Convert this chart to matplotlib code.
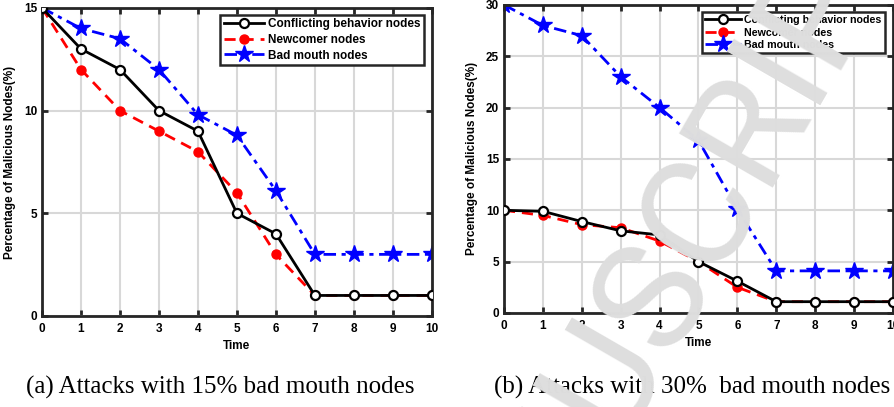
import matplotlib.pyplot as plt

# data
time = list(range(11))

conflict_15 = [15, 13, 12, 10, 9, 5, 4, 1, 1, 1, 1]
newcomer_15 = [15, 12, 10, 9, 8, 6, 3, 1, 1, 1, 1]
badmouth_15 = [15, 14, 13.5, 12, 9.8, 8.8, 6.1, 3, 3, 3, 3]

conflict_30 = [10, 9.9, 8.9, 8.0, 7.6, 5.0, 3.1, 1.1, 1.1, 1.1, 1.1]
newcomer_30 = [10, 9.5, 8.6, 8.3, 7.0, 5.0, 2.5, 1.1, 1.1, 1.1, 1.1]
badmouth_30 = [30, 28, 27, 23, 20, 16.8, 10.1, 4.1, 4.1, 4.1, 4.1]

yticks_15 = [0, 5, 10, 15]
yticks_30 = [0, 5, 10, 15, 20, 25, 30]

labels = ['Conflicting behavior nodes', 'Newcomer nodes', 'Bad mouth nodes']
captions = ['(a) Attacks with 15% bad mouth nodes',
            '(b) Attacks with 30%  bad mouth nodes']

plt.rcParams['font.family'] = ['Liberation Sans', 'DejaVu Sans']
plt.rcParams['font.weight'] = 'bold'

fig = plt.figure(figsize=(8.94, 4.07), dpi=100)
ax1 = fig.add_axes([0.047, 0.2236, 0.436, 0.757])
ax2 = fig.add_axes([0.5638, 0.231, 0.435, 0.757])


def draw_panel(ax, conflict, newcomer, badmouth, yticks, legend_size, spacing):
    ax.plot(time, conflict, color='black', lw=2, marker='o', ms=6.5,
            mfc='white', mec='black', mew=1.6, label=labels[0], zorder=4)
    ax.plot(time, newcomer, color='red', lw=2, ls=(0, (4, 2.5)), marker='o',
            ms=6.5, mfc='red', mec='red', label=labels[1], zorder=3)
    ax.plot(time, badmouth, color='blue', lw=2, ls=(0, (4.5, 2, 1.5, 2)),
            marker='*', ms=13, mfc='blue', mec='blue', label=labels[2],
            zorder=2)
    ax.set_xlim(0, 10)
    ax.set_ylim(0, yticks[-1])
    ax.set_xticks(time)
    ax.set_yticks(yticks)
    ax.grid(True, color='#d8d8d8', lw=1.5)
    ax.set_axisbelow(True)
    ax.tick_params(direction='in', length=4, width=2, top=True, right=True,
                   labelsize=8.5, color='#262626')
    ax.tick_params(axis='x', pad=5)
    ax.tick_params(axis='y', pad=3.5)
    for sp in ax.spines.values():
        sp.set_linewidth(2)
        sp.set_color('#262626')
    ax.set_xlabel('Time', fontsize=8.5, fontweight='bold', labelpad=4)
    ax.set_ylabel('Percentage of Malicious Nodes(%)', fontsize=8.5,
                  fontweight='bold', labelpad=6)
    leg = ax.legend(loc='upper right', bbox_to_anchor=(0.985, 0.985),
                    fontsize=legend_size, handlelength=3.4, fancybox=False,
                    framealpha=1, borderpad=0.3, labelspacing=spacing,
                    handletextpad=0.3, borderaxespad=0.2)
    leg.get_frame().set_edgecolor('#262626')
    leg.get_frame().set_linewidth(1.8)


draw_panel(ax1, conflict_15, newcomer_15, badmouth_15, yticks_15, 8.5, 0.3)
draw_panel(ax2, conflict_30, newcomer_30, badmouth_30, yticks_30, 7.7, 0.25)

fig.text(0.246, 0.047, captions[0], fontsize=18, family='Liberation Serif',
         fontweight='normal', ha='center', va='center')
fig.text(0.774, 0.047, captions[1], fontsize=18, family='Liberation Serif',
         fontweight='normal', ha='center', va='center')

# light grey watermark across the right panel
fig.text(0.725, 0.263, 'MANUSCRIPT', fontsize=110, color='#dedede',
         family=['Roboto', 'DejaVu Sans'], fontweight='normal',
         rotation=60, rotation_mode='anchor', ha='center', va='center',
         zorder=10)

fig.savefig('out.png', dpi=100)
